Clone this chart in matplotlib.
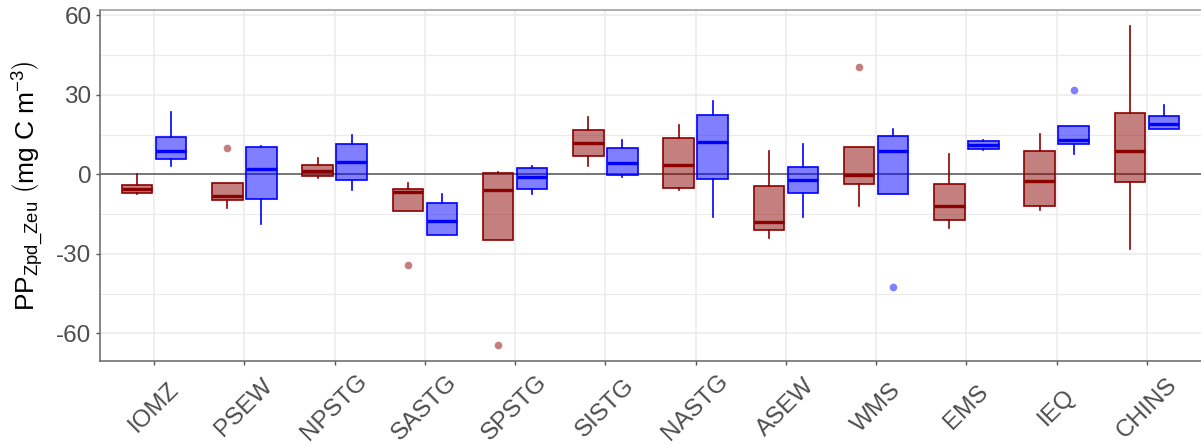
import matplotlib
matplotlib.use("Agg")
import matplotlib.pyplot as plt
import numpy as np

plt.rcParams['font.family'] = ['Liberation Sans', 'DejaVu Sans']
plt.rcParams['mathtext.fontset'] = 'custom'
plt.rcParams['mathtext.rm'] = 'Liberation Sans'
plt.rcParams['mathtext.it'] = 'Liberation Sans:italic'
plt.rcParams['axes.unicode_minus'] = False

regions = ['IOMZ', 'PSEW', 'NPSTG', 'SASTG', 'SPSTG', 'SISTG',
           'NASTG', 'ASEW', 'WMS', 'EMS', 'IEQ', 'CHINS']

# red series: whisker low, q1, median, q3, whisker high
red_whislo = [-7.4, -12.8, -1.3, -13.9, -24.9, 3.1, -5.8, -24.1, -11.8, -20.2, -13.3, -28.2]
red_q1     = [-6.9, -9.8, -0.5, -13.9, -24.9, 7.0, -5.3, -21.1, -3.7, -17.2, -11.8, -3.0]
red_med    = [-5.4, -8.2, 1.2, -6.7, -5.9, 11.7, 3.5, -17.8, -0.1, -11.8, -2.4, 8.9]
red_q3     = [-3.9, -3.3, 3.5, -5.6, 0.5, 16.6, 13.6, -4.4, 10.2, -3.5, 8.8, 23.1]
red_whishi = [0.0, -3.3, 6.1, -3.3, 1.0, 21.7, 18.6, 9.0, 10.2, 7.5, 15.1, 55.8]
red_fliers = [[], [9.9], [], [-34.0], [-64.5], [], [], [], [40.4], [], [], []]

# blue series
blue_whislo = [3.1, -18.6, -6.0, -23.0, -7.3, -1.0, -16.2, -16.2, -7.3, 9.2, 7.8, 17.1]
blue_q1     = [5.7, -9.2, -2.2, -23.0, -5.5, -0.1, -1.6, -7.0, -7.3, 9.5, 11.6, 17.1]
blue_med    = [8.8, 2.2, 4.6, -17.5, -1.0, 4.4, 12.1, -2.1, 8.8, 11.1, 13.1, 19.0]
blue_q3     = [14.1, 10.2, 11.3, -10.7, 2.5, 10.1, 22.5, 2.6, 14.3, 12.6, 18.2, 21.9]
blue_whishi = [23.5, 10.6, 14.8, -7.3, 3.3, 12.8, 27.5, 11.6, 17.2, 13.1, 18.2, 26.1]
blue_fliers = [[], [], [], [], [], [], [], [], [-42.5], [], [32.0], []]


def make_stats(lo, q1, med, q3, hi, fl):
    return [dict(whislo=a, q1=b, med=c, q3=d, whishi=e, fliers=f)
            for a, b, c, d, e, f in zip(lo, q1, med, q3, hi, fl)]


fig = plt.figure(figsize=(12.01, 4.47), dpi=100)
ax = fig.add_axes([100 / 1201, 1 - 361 / 447, 1 - 100 / 1201, 351 / 447])

x = np.arange(1, len(regions) + 1)

ax.set_axisbelow(True)
ax.set_yticks([-45, -15, 15, 45], minor=True)
ax.grid(True, which='major', color='#EBEBEB', lw=1.1)
ax.grid(True, which='minor', axis='y', color='#EBEBEB', lw=0.8)
ax.axhline(0, color='#555555', lw=1.1, zorder=1.5)

for stats, col, off in [
        (make_stats(red_whislo, red_q1, red_med, red_q3, red_whishi, red_fliers), '#8B0000', -0.1875),
        (make_stats(blue_whislo, blue_q1, blue_med, blue_q3, blue_whishi, blue_fliers), '#0000FF', 0.1875)]:
    ax.bxp(stats, positions=x + off, widths=0.3375, patch_artist=True,
           showcaps=False, manage_ticks=False,
           boxprops=dict(facecolor=col + '80', edgecolor=col, lw=1.2),
           whiskerprops=dict(color=col, lw=1.2),
           medianprops=dict(color=col, lw=2.4, solid_capstyle='butt'),
           flierprops=dict(marker='o', markerfacecolor=col, markeredgecolor='none',
                           alpha=0.5, markersize=5.5))

ax.set_xlim(0.4, 12.6)
ax.set_ylim(-70.4, 62.0)
ax.set_yticks([-60, -30, 0, 30, 60])
ax.set_xticks(x)
ax.set_xticklabels(regions, rotation=45, ha='center', va='center',
                   rotation_mode='anchor')
ax.tick_params(axis='x', length=3.1, pad=30.5, labelsize=17.5,
               labelcolor='#4D4D4D', color='#555555', width=1)
ax.tick_params(axis='y', length=3.1, pad=3, labelsize=17.5,
               labelcolor='#4D4D4D', color='#555555', width=1)
ax.tick_params(which='minor', length=0)

ax.spines['right'].set_visible(False)
ax.spines['top'].set_color('#999999')
ax.spines['left'].set_color('#666666')
ax.spines['bottom'].set_color('#666666')
for s in ax.spines.values():
    s.set_linewidth(1.1)

ax.set_ylabel(r'PP$_{\mathregular{Zpd\_Zeu}}\ \left(\mathregular{mg\ C\ m^{-3}}\right)$',
              fontsize=19, color='black', labelpad=7)

fig.savefig('out.png', dpi=100)
